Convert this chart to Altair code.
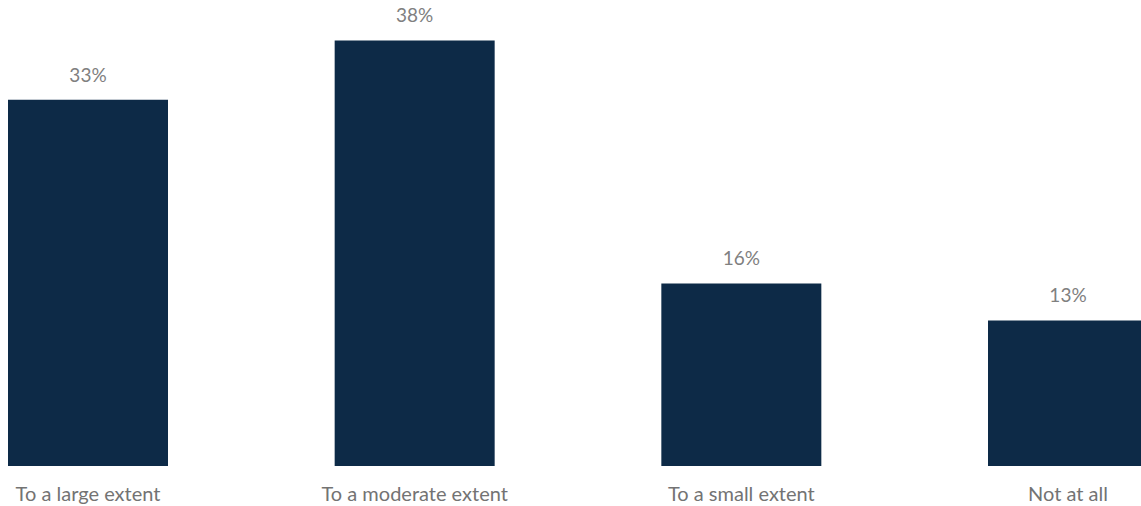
import altair as alt
import pandas as pd

categories = ["To a large extent", "To a moderate extent", "To a small extent", "Not at all"]
values = [32.7, 38.0, 16.3, 13.0]
labels = ["33%", "38%", "16%", "13%"]

df = pd.DataFrame({"cat": categories, "val": values, "lab": labels})

step = (1068 - 88) / 3
x_scale = alt.Scale(domain=categories, range=[88 - step / 2, 1068 + step / 2],
                    paddingInner=(step - 160) / step, paddingOuter=(step - 160) / step / 2)
y_scale = alt.Scale(domain=[0, 466 / 11.2], nice=False)

x_enc = alt.X("cat:N", scale=x_scale, sort=categories,
              axis=alt.Axis(title=None, domain=False, ticks=False, labelAngle=0,
                            labelPadding=18, labelFont="Lato", labelFontSize=20,
                            labelColor="#737373", labelLimit=400, grid=False))

bars = alt.Chart(df).mark_bar(color="#0D2A47").encode(
    x=x_enc,
    y=alt.Y("val:Q", scale=y_scale, axis=None),
)

text = alt.Chart(df).mark_text(dy=-14, baseline="bottom", font="Lato", fontSize=19,
                               color="#808080").encode(
    x=alt.X("cat:N", scale=x_scale, sort=categories),
    y=alt.Y("val:Q", scale=y_scale),
    text="lab:N",
)

chart = (bars + text).properties(
    width=1141, height=466,
    background="white",
    autosize=alt.AutoSizeParams(type="none"),
    padding={"left": 0, "top": 0, "right": 0, "bottom": 40},
).configure_view(stroke=None)

chart.save("out.html", embed_options={"renderer": "svg", "actions": False})
